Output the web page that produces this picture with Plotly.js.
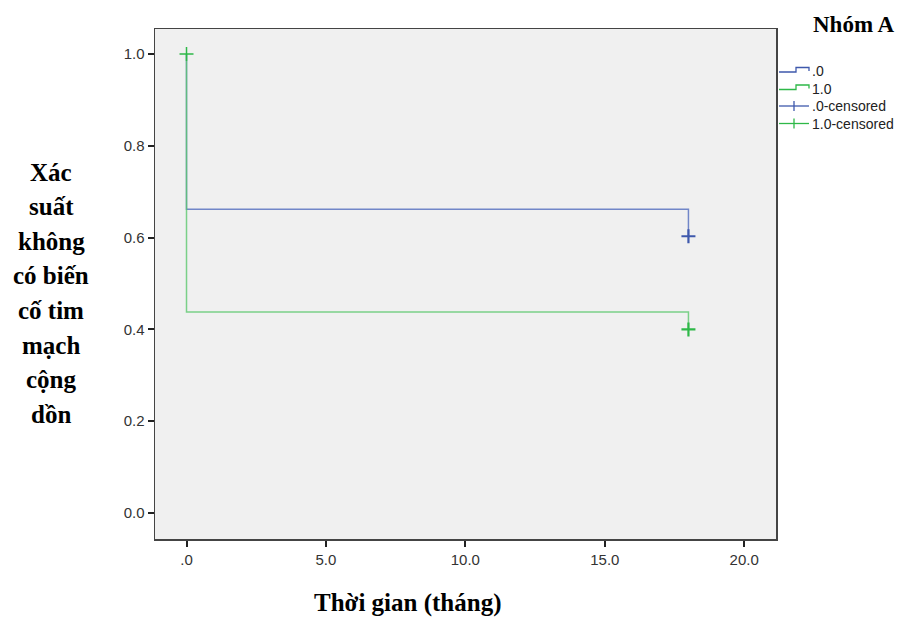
<!DOCTYPE html>
<html>
<head>
<meta charset="utf-8">
<script src="https://cdn.plot.ly/plotly-3.0.1.min.js"></script>
<style>html,body{margin:0;padding:0;background:#fff;}#chart{width:912px;height:617px;}</style>
</head>
<body>
<div id="chart"></div>
<script>
// ---- data ----
const groupNames = [".0", "1.0"];
const censorNames = [".0-censored", "1.0-censored"];
const timeBlue = [0, 0, 18];
const survBlue = [1.0, 0.662, 0.603];
const timeGreen = [0, 0, 18];
const survGreen = [1.0, 0.438, 0.400];
const censorTimeBlue = [18];
const censorSurvBlue = [0.603];
const censorTimeGreen = [0, 18];
const censorSurvGreen = [1.0, 0.400];
const xTickVals = [0, 5, 10, 15, 20];
const xTickText = [".0", "5.0", "10.0", "15.0", "20.0"];
const yTickVals = [0, 0.2, 0.4, 0.6, 0.8, 1.0];
const yTickText = ["0.0", "0.2", "0.4", "0.6", "0.8", "1.0"];
const yTitleLines = ["Xác", "suất", "không", "có biến", "cố tim", "mạch", "cộng", "dồn"];
const xTitle = "Thời gian (tháng)";
const legendTitle = "Nhóm A";

// ---- geometry ----
const W = 912, H = 617;
const mL = 155, mR = 136, mT = 29, mB = 78;
const pw = W - mL - mR, ph = H - mT - mB;
const px2x = p => (p - mL) / pw;
const py2y = p => (H - mB - p) / ph;

const blueLine = '#7186C8', greenLine = '#5CC86E';
const blueMark = '#3E58AC', greenMark = '#2EB848';

const traces = [
  {x: timeBlue, y: survBlue, name: groupNames[0], mode: 'lines', showlegend: false,
   line: {shape: 'hv', color: blueLine, width: 1.5}},
  {x: timeGreen, y: survGreen, name: groupNames[1], mode: 'lines', opacity: 0.8, showlegend: false,
   line: {shape: 'hv', color: greenLine, width: 1.5}},
  {x: censorTimeBlue, y: censorSurvBlue, name: censorNames[0], mode: 'markers', showlegend: false,
   marker: {symbol: 'cross-thin-open', size: 10, color: blueMark, line: {color: blueMark, width: 2.2}}},
  {x: censorTimeGreen, y: censorSurvGreen, name: censorNames[1], mode: 'markers', showlegend: false,
   marker: {symbol: 'cross-thin-open', size: 10, color: greenMark, line: {color: greenMark, width: [1.5, 2.2]}}}
];

const serif = {family: 'Liberation Serif, Times New Roman, serif', size: 25, color: '#000'};
const sans = {family: 'Liberation Sans, Arial, sans-serif', size: 14, color: '#222'};
const annotations = yTitleLines.map((t, i) => ({
  text: '<b>' + t + '</b>', xref: 'paper', yref: 'paper',
  x: px2x(51), y: py2y(172 + i * 34.6), xanchor: 'center', yanchor: 'middle',
  showarrow: false, font: serif
}));
annotations.push({text: '<b>' + xTitle + '</b>', xref: 'paper', yref: 'paper',
  x: px2x(408), y: py2y(603), xanchor: 'center', yanchor: 'middle', showarrow: false, font: serif});
annotations.push({text: '<b>' + legendTitle + '</b>', xref: 'paper', yref: 'paper',
  x: px2x(854), y: py2y(24), xanchor: 'center', yanchor: 'middle', showarrow: false,
  font: Object.assign({}, serif, {size: 23})});

// ---- custom legend (step icons for curves, line+cross for censored) ----
const legendLabels = [groupNames[0], groupNames[1], censorNames[0], censorNames[1]];
const legendColors = [blueMark, greenMark, blueMark, greenMark];
const rowY = [71, 88.5, 106, 123.5];
const shapes = [];
legendLabels.forEach((lab, i) => {
  const y = rowY[i], c = legendColors[i];
  annotations.push({text: lab, xref: 'paper', yref: 'paper', x: px2x(810), y: py2y(y),
    xanchor: 'left', yanchor: 'middle', showarrow: false, font: sans});
  if (i < 2) {
    const p = `M ${px2x(779)},${py2y(y + 1)} L ${px2x(796)},${py2y(y + 1)} L ${px2x(796)},${py2y(y - 3.5)} L ${px2x(809)},${py2y(y - 3.5)} L ${px2x(809)},${py2y(y)}`;
    shapes.push({type: 'path', xref: 'paper', yref: 'paper', path: p, line: {color: c, width: 1.3}});
  } else {
    shapes.push({type: 'line', xref: 'paper', yref: 'paper', x0: px2x(779), x1: px2x(809), y0: py2y(y), y1: py2y(y), line: {color: c, width: 1.3}});
    shapes.push({type: 'line', xref: 'paper', yref: 'paper', x0: px2x(794), x1: px2x(794), y0: py2y(y - 5), y1: py2y(y + 5), line: {color: c, width: 1.3}});
  }
});

const axisCommon = {
  showgrid: false, zeroline: false, showline: true, mirror: true,
  linecolor: '#444', linewidth: 1.5, ticks: 'outside', ticklen: 6, tickwidth: 2, tickcolor: '#222',
  tickfont: {family: 'Liberation Sans, Arial, sans-serif', size: 15, color: '#333'}, fixedrange: true
};

const layout = {
  width: W, height: H,
  margin: {l: mL, r: mR, t: mT, b: mB, pad: 0},
  paper_bgcolor: '#fff', plot_bgcolor: '#F0F0F0',
  xaxis: Object.assign({}, axisCommon, {range: [-1.13, 21.14], tickvals: xTickVals, ticktext: xTickText}),
  yaxis: Object.assign({}, axisCommon, {range: [-0.0566, 1.0545], tickvals: yTickVals, ticktext: yTickText}),
  showlegend: false,
  annotations: annotations,
  shapes: shapes
};

Plotly.newPlot('chart', traces, layout, {displayModeBar: false, staticPlot: true});
</script>
</body>
</html>
